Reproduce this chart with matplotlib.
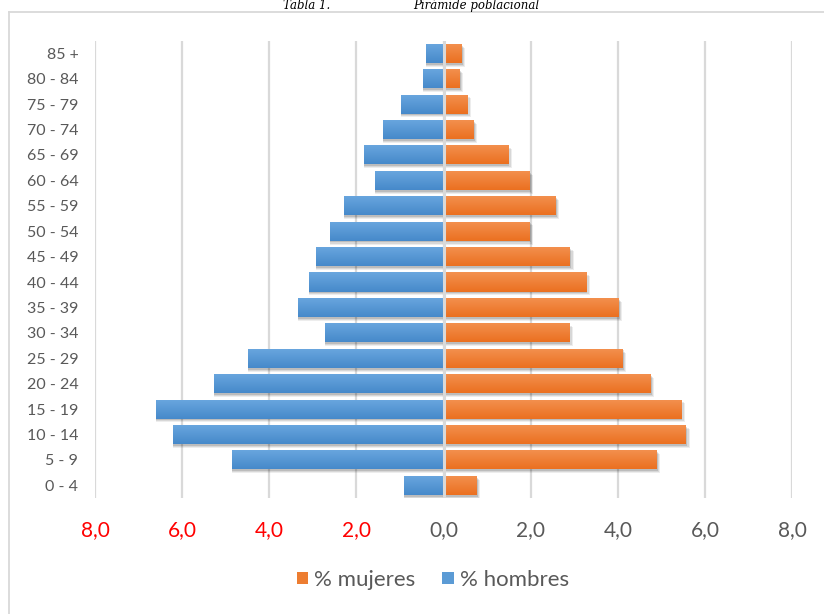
import matplotlib
matplotlib.use("Agg")
import matplotlib.pyplot as plt
import numpy as np
from matplotlib.lines import Line2D
from matplotlib.patches import Patch
from matplotlib.colors import LinearSegmentedColormap

grupos = ["0 - 4", "5 - 9", "10 - 14", "15 - 19", "20 - 24", "25 - 29", "30 - 34",
          "35 - 39", "40 - 44", "45 - 49", "50 - 54", "55 - 59", "60 - 64",
          "65 - 69", "70 - 74", "75 - 79", "80 - 84", "85 +"]
hombres = [0.91, 4.86, 6.21, 6.60, 5.26, 4.48, 2.72, 3.34, 3.09, 2.93, 2.61, 2.29,
           1.57, 1.83, 1.39, 0.98, 0.47, 0.40]
mujeres = [0.74, 4.87, 5.55, 5.44, 4.73, 4.09, 2.87, 4.00, 3.26, 2.89, 1.96, 2.55,
           1.96, 1.47, 0.67, 0.53, 0.35, 0.40]
xticks = [-8, -6, -4, -2, 0, 2, 4, 6, 8]
xticklabels = ["8,0", "6,0", "4,0", "2,0", "0,0", "2,0", "4,0", "6,0", "8,0"]

plt.rcParams['font.family'] = ['Lato', 'DejaVu Sans']

W, H = 824, 614
fig = plt.figure(figsize=(W / 100, H / 100), dpi=100)
ax = fig.add_axes([95 / W, 1 - 498 / H, (792.3 - 95) / W, (498 - 40.6) / H])

y = np.arange(len(grupos))
bh = 0.75
grid_c = "#d9d9d9"
text_c = "#595959"

for xv in xticks:
    ax.axvline(xv, color=grid_c, lw=1.6, zorder=0)

# soft shadows
for dx, dy, a in [(0.10, -0.15, 0.07), (0.07, -0.11, 0.09), (0.04, -0.07, 0.12)]:
    ax.barh(y + dy, [-v for v in hombres], height=bh, left=0, color="black", alpha=a,
            zorder=1, linewidth=0)
    ax.barh(y + dy, [v + dx for v in mujeres], height=bh, left=0, color="black", alpha=a,
            zorder=1, linewidth=0)

bars_h = ax.barh(y, [-v for v in hombres], height=bh, color="#5b9bd5", zorder=2, linewidth=0)
bars_m = ax.barh(y, mujeres, height=bh, color="#ed7d31", zorder=2, linewidth=0)


def gradient(bars, top, bottom):
    cmap = LinearSegmentedColormap.from_list("g", [bottom, top])
    grad = np.linspace(0, 1, 64).reshape(-1, 1)
    for b in bars:
        x0, y0 = b.get_x(), b.get_y()
        w, h = b.get_width(), b.get_height()
        im = ax.imshow(grad, cmap=cmap, aspect="auto", origin="lower",
                       extent=[x0, x0 + w, y0, y0 + h], zorder=3, interpolation="bilinear")
        im.set_clip_path(b)


gradient(bars_h, "#6aa7df", "#4689ca")
gradient(bars_m, "#f39150", "#eb7020")

ax.axvline(0, color=grid_c, lw=2.2, zorder=4)

ax.set_xlim(-8, 8)
ax.set_ylim(-0.5, len(grupos) - 0.5)
ax.set_yticks(y)
ax.set_yticklabels(grupos, fontsize=11.5, color=text_c)
ax.set_xticks(xticks)
ax.set_xticklabels(xticklabels, fontsize=15)
for lbl, v in zip(ax.get_xticklabels(), xticks):
    lbl.set_color("#ff0000" if v < 0 else text_c)
ax.tick_params(axis="x", length=0, pad=16)
ax.tick_params(axis="y", length=0, pad=12)
for s in ax.spines.values():
    s.set_visible(False)

handles = [Patch(facecolor="#ed7d31", label="% mujeres"),
           Patch(facecolor="#5b9bd5", label="% hombres")]
fig.legend(handles=handles, loc="center", bbox_to_anchor=(433 / W, 1 - 580 / H),
           ncol=2, frameon=False, fontsize=16, labelcolor=text_c,
           handlelength=0.5, handleheight=0.5, handletextpad=0.3, columnspacing=1.2)

# chart frame (partly outside the image)
fig.add_artist(Line2D([8.5 / W, 1.0], [1 - 11.5 / H, 1 - 11.5 / H], color=grid_c, lw=1.3,
                      transform=fig.transFigure))
fig.add_artist(Line2D([8.5 / W, 8.5 / W], [1 - 11.5 / H, 0.0], color=grid_c, lw=1.3,
                      transform=fig.transFigure))

# caption above the chart
fig.text(283 / W, 1 - 9 / H, "Tabla 1.", family="DejaVu Serif", style="italic",
         fontsize=8.5, va="baseline", ha="left", color="black")
fig.text(413 / W, 1 - 9 / H, "Pirámide poblacional", family="DejaVu Serif", style="italic",
         fontsize=8.5, va="baseline", ha="left", color="black")

fig.savefig("out.png", dpi=100)
